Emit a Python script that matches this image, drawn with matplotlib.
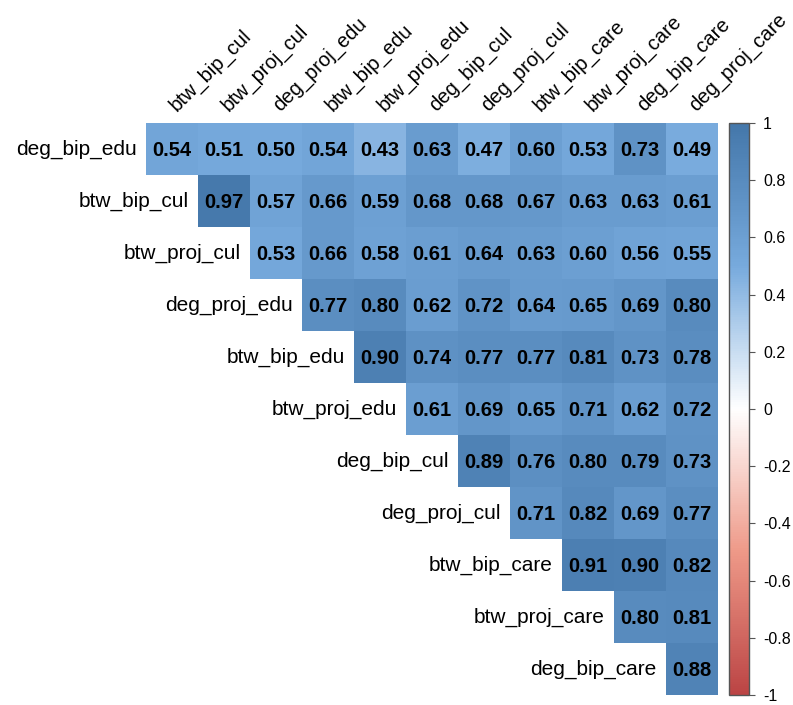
import matplotlib
matplotlib.use("Agg")
import matplotlib.pyplot as plt
import matplotlib.colors as colors
import matplotlib.cm as cm
import numpy as np

from matplotlib.colors import LinearSegmentedColormap

plt.rcParams['font.family'] = ['Liberation Sans', 'DejaVu Sans']

ROW_LABELS = ['deg_bip_edu', 'btw_bip_cul', 'btw_proj_cul', 'deg_proj_edu', 'btw_bip_edu',
              'btw_proj_edu', 'deg_bip_cul', 'deg_proj_cul', 'btw_bip_care', 'btw_proj_care',
              'deg_bip_care']
COL_LABELS = ['btw_bip_cul', 'btw_proj_cul', 'deg_proj_edu', 'btw_bip_edu', 'btw_proj_edu',
              'deg_bip_cul', 'deg_proj_cul', 'btw_bip_care', 'btw_proj_care', 'deg_bip_care',
              'deg_proj_care']

# upper triangle, row i starts at column i
ROW_VALUES = [
    [0.54, 0.51, 0.50, 0.54, 0.43, 0.63, 0.47, 0.60, 0.53, 0.73, 0.49],
    [0.97, 0.57, 0.66, 0.59, 0.68, 0.68, 0.67, 0.63, 0.63, 0.61],
    [0.53, 0.66, 0.58, 0.61, 0.64, 0.63, 0.60, 0.56, 0.55],
    [0.77, 0.80, 0.62, 0.72, 0.64, 0.65, 0.69, 0.80],
    [0.90, 0.74, 0.77, 0.77, 0.81, 0.73, 0.78],
    [0.61, 0.69, 0.65, 0.71, 0.62, 0.72],
    [0.89, 0.76, 0.80, 0.79, 0.73],
    [0.71, 0.82, 0.69, 0.77],
    [0.91, 0.90, 0.82],
    [0.80, 0.81],
    [0.88],
]

CBAR_TICKS = [-1, -0.8, -0.6, -0.4, -0.2, 0, 0.2, 0.4, 0.6, 0.8, 1]

n = len(COL_LABELS)
matrix = np.full((n, n), np.nan)
for i, vals in enumerate(ROW_VALUES):
    matrix[i, i:i + len(vals)] = vals

cmap = LinearSegmentedColormap.from_list(
    "corr_cmap", ["#BB4444", "#EE9988", "#FFFFFF", "#77AADD", "#4477AA"], N=256)
norm = colors.Normalize(-1, 1)

W, H = 793, 705
fig = plt.figure(figsize=(W / 100, H / 100), dpi=100)

# grid area in pixels
left, top, size = 146, 123, 572
ax = fig.add_axes([left / W, (H - top - size) / H, size / W, size / H])
ax.imshow(np.ma.masked_invalid(matrix), cmap=cmap, norm=norm, aspect='auto',
          interpolation='nearest', extent=(-0.5, n - 0.5, n - 0.5, -0.5))
ax.set_xlim(-0.5, n - 0.5)
ax.set_ylim(n - 0.5, -0.5)
ax.axis('off')

for i in range(n):
    for j in range(n):
        if not np.isnan(matrix[i, j]):
            ax.text(j, i + 0.02, f'{matrix[i, j]:.2f}', ha='center', va='center',
                    fontsize=14.5, fontweight='bold', color='black')

for i, name in enumerate(ROW_LABELS):
    ax.text(i - 0.5 - 0.18, i, name, ha='right', va='center', fontsize=15, color='black')

for j, name in enumerate(COL_LABELS):
    ax.text(j + 0.14, -0.5 - 0.16, name, ha='left', va='bottom', rotation=45,
            rotation_mode='anchor', fontsize=14.5, color='black', clip_on=False)

# colorbar
cax = fig.add_axes([729 / W, (H - 695) / H, 20 / W, 572 / H])
cb = fig.colorbar(cm.ScalarMappable(norm=norm, cmap=cmap), cax=cax, ticks=CBAR_TICKS)
cb.outline.set_edgecolor('#555555')
cb.outline.set_linewidth(1.0)
cb.ax.tick_params(length=4, width=0.8, color='#555555', labelsize=11.5, pad=6)
cb.ax.set_yticklabels([f'{t:g}' for t in CBAR_TICKS])

plt.savefig('out.png', dpi=100)
